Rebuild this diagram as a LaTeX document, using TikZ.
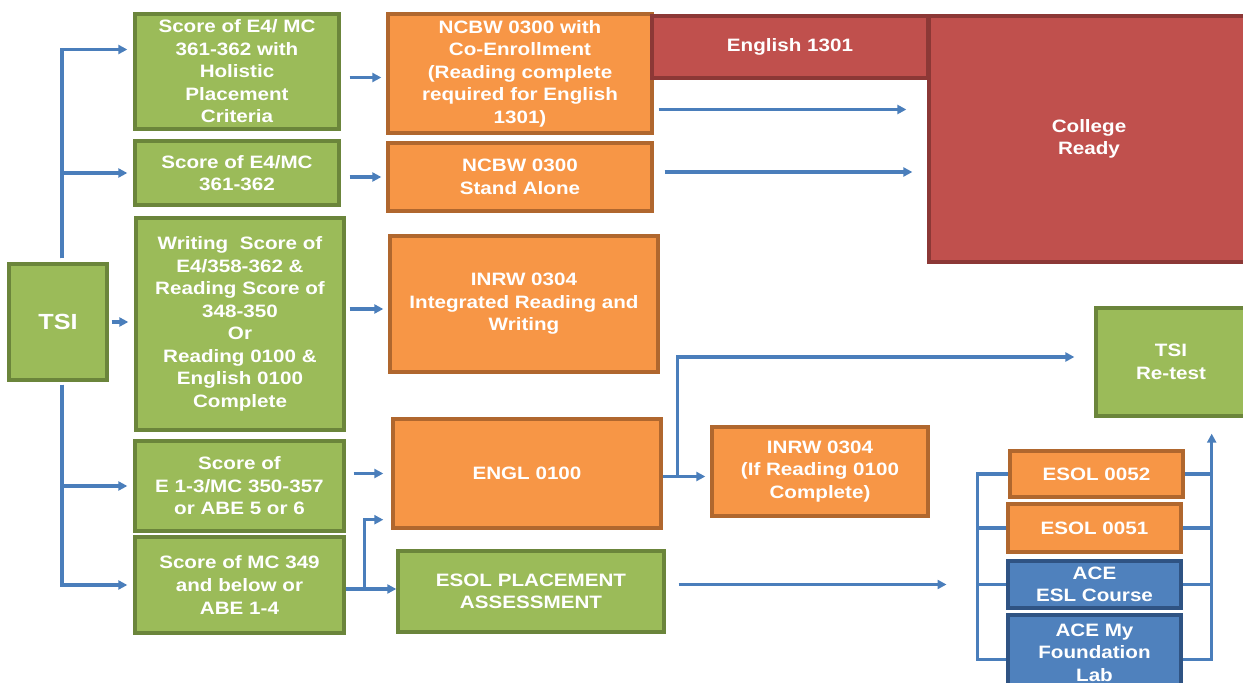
\documentclass[tikz,border=0pt]{standalone}
\usepackage{fontspec}
\newfontfamily\boxfont{Liberation Sans}[FakeStretch=1.15]
\usepackage{tikz}
\usetikzlibrary{arrows.meta,calc,positioning}
\definecolor{gruen}{HTML}{9BBB59}
\definecolor{gruenrand}{HTML}{6B853B}
\definecolor{orangefill}{HTML}{F79646}
\definecolor{orangerand}{HTML}{B0672E}
\definecolor{rot}{HTML}{C0504D}
\definecolor{rotrand}{HTML}{8C3836}
\definecolor{blau}{HTML}{4F81BD}
\definecolor{blaurand}{HTML}{2F5383}
\definecolor{pfeilblau}{HTML}{4A7EBB}

\begin{document}
\begin{tikzpicture}[x=1bp,y=-1bp,
  kasten/.style={draw,line width=3.4bp,text=white,align=center,inner sep=1bp,
    font=\boxfont\bfseries\fontsize{18}{22.6}\selectfont},
  gruenbox/.style={kasten,fill=gruen,draw=gruenrand},
  orangebox/.style={kasten,fill=orangefill,draw=orangerand},
  rotbox/.style={kasten,fill=rot,draw=rotrand},
  blaubox/.style={kasten,fill=blau,draw=blaurand},
  linie/.style={draw=pfeilblau,line width=3.2bp},
  pfeil/.style={linie,-{Triangle[length=9bp,width=9bp]}}]
\useasboundingbox (0,0) rectangle (1243,683);
\fill[white] (0,0) rectangle (1243,683);
%Linke Spalte: TSI und die Punktzahlen
\node[gruenbox,minimum width=98bp,minimum height=116bp,font=\boxfont\bfseries\fontsize{22}{26}\selectfont] (tsi) at (58,322) {TSI};
\node[gruenbox,minimum width=204bp,minimum height=115bp] (g1) at (237,71.5) {Score of E4/ MC\\361-362 with\\Holistic\\Placement\\Criteria};
\node[gruenbox,minimum width=204bp,minimum height=64bp] (g2) at (237,173) {Score of E4/MC\\361-362};
\node[gruenbox,minimum width=208bp,minimum height=212bp] (g3) at (240,324) {Writing\ \ Score of\\E4/358-362 \&\\Reading Score of\\348-350\\Or\\Reading 0100 \&\\English 0100\\Complete};
\node[gruenbox,minimum width=209bp,minimum height=90bp] (g4) at (239.5,486) {Score of\\E 1-3/MC 350-357\\or ABE 5 or 6};
\node[gruenbox,minimum width=209bp,minimum height=96bp] (g5) at (239.5,585) {Score of MC 349\\and below or\\ABE 1-4};
%Kurse
\node[orangebox,minimum width=264bp,minimum height=119bp] (o1) at (520,73.5) {NCBW 0300 with\\Co-Enrollment\\(Reading complete\\required for English\\1301)};
\node[orangebox,minimum width=264bp,minimum height=68bp] (o2) at (520,177) {NCBW 0300\\Stand Alone};
\node[orangebox,minimum width=268bp,minimum height=136bp] (o3) at (524,304) {INRW 0304\\Integrated Reading and\\Writing};
\node[orangebox,minimum width=268bp,minimum height=109bp] (engl) at (527,473.5) {ENGL 0100};
\node[orangebox,minimum width=216bp,minimum height=89bp] (inrw) at (820,471.5) {INRW 0304\\(If Reading 0100\\Complete)};
\node[gruenbox,minimum width=266bp,minimum height=81bp] (esolpa) at (531,591.5) {ESOL PLACEMENT\\ASSESSMENT};
%Ziele rechts
\node[rotbox,minimum width=276bp,minimum height=62bp] (en1301) at (790,47) {English 1301};
\node[rotbox,minimum width=320bp,minimum height=246bp] (ready) at (1089,139) {College\\Ready};
\node[gruenbox,minimum width=150bp,minimum height=108bp] (retest) at (1171,362) {TSI\\Re-test};
\node[orangebox,minimum width=173bp,minimum height=46bp] (esol52) at (1096.5,474) {ESOL 0052};
\node[orangebox,minimum width=173bp,minimum height=48bp] (esol51) at (1094.5,528) {ESOL 0051};
\node[blaubox,minimum width=173bp,minimum height=47bp] (ace1) at (1094.5,584.5) {ACE\\ESL Course};
\node[blaubox,minimum width=173bp,minimum height=75bp] (ace2) at (1094.5,652.5) {ACE My\\Foundation\\Lab};
%Verbindungen von TSI
\coordinate (t1) at ([xshift=4pt,yshift=4pt]tsi.north);
\coordinate (t2) at ([xshift=4pt,yshift=-3pt]tsi.south);
\draw[pfeil,shorten >=6pt] (t1) |- ($(g1.west)+(0,-22)$);
\draw[pfeil,shorten >=6pt] (t1) |- (g2.west);
\draw[pfeil,shorten <=3pt,shorten >=6pt] (tsi.east) -- (tsi.east -| g3.west);
\draw[pfeil,shorten >=6pt] (t2) |- (g4.west);
\draw[pfeil,shorten >=6pt] (t2) |- (g5.west);
%Punktzahl -> Kurs
\draw[pfeil,shorten <=9pt,shorten >=5pt] ($(g1.east)+(0,6)$) -- ($(g1.east -| o1.west)+(0,6)$);
\draw[pfeil,shorten <=9pt,shorten >=5pt] ($(g2.east)+(0,4)$) -- ($(g2.east -| o2.west)+(0,4)$);
\draw[pfeil,shorten <=4pt,shorten >=5pt] ($(o3.west -| g3.east)+(0,5)$) -- ($(o3.west)+(0,5)$);
\draw[pfeil,shorten <=8pt,shorten >=8pt] (engl.west -| g4.east) -- (engl.west);
\coordinate (knick) at ($(g5.east)+(19,4)$);
\draw[linie] ($(g5.east)+(0,4)$) -- (knick);
\draw[pfeil,shorten >=8pt] (knick) |- ($(engl.south west)+(0,-10)$);
\draw[pfeil] (knick) -- (knick -| esolpa.west);
%Kurs -> College Ready
\draw[pfeil,shorten <=5pt,shorten >=21pt] ($(o1.east)+(0,36)$) -- ($(o1.east -| ready.west)+(0,36)$);
\draw[pfeil,shorten <=11pt,shorten >=15pt] ($(o2.east)+(0,-5)$) -- ($(o2.east -| ready.west)+(0,-5)$);
%ENGL 0100 -> INRW bzw. Re-test
\coordinate (abzw) at ($(engl.east)+(15,3)$);
\draw[pfeil,shorten >=5pt] ($(engl.east)+(0,3)$) -- (abzw -| inrw.west);
\draw[pfeil,shorten >=20pt] (abzw) |- ($(retest.west)+(0,-5)$);
%ESOL-Gruppe
\draw[pfeil,shorten <=13pt,shorten >=60pt] (esolpa.east |- ace1.west) -- (ace1.west);
\coordinate (lk) at ($(esol52.west)+(-31,0)$);
\coordinate (rk) at ($(esol52.east)+(27,0)$);
\draw[linie] (esol52.west) -- (lk) |- ($(ace2.west)+(0,7)$);
\draw[linie] (esol51.west) -- (esol51.west -| lk);
\draw[linie] (ace1.west) -- (ace1.west -| lk);
\draw[linie] (esol52.east) -- (rk);
\draw[linie] (esol51.east) -- (esol51.east -| rk);
\draw[linie] (ace1.east) -- (ace1.east -| rk);
\draw[pfeil,shorten >=16pt] ($(ace2.east)+(0,7)$) -| (retest.south -| rk);
\end{tikzpicture}
\end{document}
